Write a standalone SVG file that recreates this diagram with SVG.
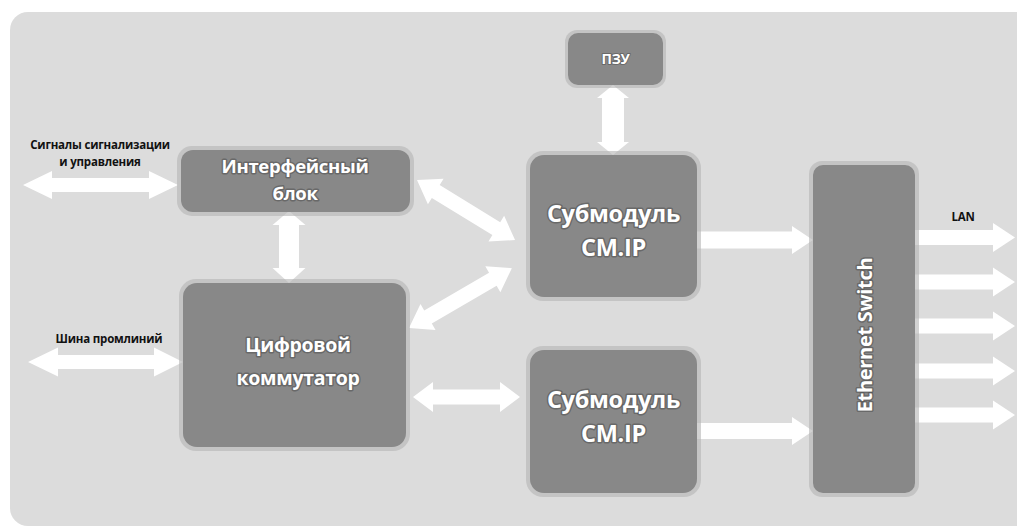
<svg xmlns="http://www.w3.org/2000/svg" width="1017" height="529" viewBox="0 0 1017 529">
<style>
.panel{fill:#dcdcdc}
.glow{fill:#b4b4b4;opacity:.6}
.box{fill:#888888}
.t{font-family:"Open Sans","DejaVu Sans",sans-serif;font-weight:700;fill:#fff;text-anchor:middle;stroke:#4a4a4a;stroke-width:3;stroke-opacity:.5;paint-order:stroke;stroke-linejoin:round;letter-spacing:-0.3px}
.lbl{font-family:"Open Sans","DejaVu Sans",sans-serif;font-weight:700;fill:#111;font-size:11.5px;text-anchor:middle;letter-spacing:-0.2px}
.arr{fill:#fff}
</style>
<rect x="0" y="0" width="1017" height="529" fill="#fff"/>
<rect class="panel" x="10" y="12" width="1040" height="514" rx="18"/>

<g id="connectors">
  <polygon class="arr" points="23,185 52,171 52,178 149,178 149,171 178,185 149,199 149,192 52,192 52,199"/>
  <polygon class="arr" points="28,362 58,347.5 58,355 154,355 154,347.5 183,362 154,376.5 154,369 58,369 58,376.5"/>
  <polygon class="arr" points="289,211 305.5,225 299,225 299,268 305.5,268 289,283 272.5,268 279,268 279,225 272.5,225"/>
  <polygon class="arr" points="613,85 629,98 624,98 624,142 629,142 613,155 597,142 602,142 602,98 597,98"/>
  <polygon class="arr" transform="translate(417,180) rotate(31.5)" points="0,0 22,-15 22,-7.5 93,-7.5 93,-15 115,0 93,15 93,7.5 22,7.5 22,15"/>
  <polygon class="arr" transform="translate(409,328) rotate(-30.2)" points="0,0 22,-15 22,-7.5 97,-7.5 97,-15 119,0 97,15 97,7.5 22,7.5 22,15"/>
  <polygon class="arr" points="413,397 433,382 433,389.5 500,389.5 500,382 520,397 500,412 500,404.5 433,404.5 433,412"/>
  <polygon class="arr" points="697,231.5 792,231.5 792,226 813,240 792,254 792,248.5 697,248.5"/>
  <polygon class="arr" points="697,423 792,423 792,417 813,431 792,445 792,439 697,439"/>
  <polygon class="arr" points="915,230 993,230 993,223 1015,237.5 993,252 993,245 915,245"/>
  <polygon class="arr" points="915,274.5 993,274.5 993,267.5 1015,282 993,296.5 993,289.5 915,289.5"/>
  <polygon class="arr" points="915,318.5 993,318.5 993,311.5 1015,326 993,340.5 993,333.5 915,333.5"/>
  <polygon class="arr" points="915,363.5 993,363.5 993,356.5 1015,371 993,385.5 993,378.5 915,378.5"/>
  <polygon class="arr" points="915,407.5 993,407.5 993,400.5 1015,415 993,429.5 993,422.5 915,422.5"/>
</g>

<g id="labels">
  <text class="lbl" x="100" y="149">Сигналы сигнализации</text>
  <text class="lbl" x="100" y="166">и управления</text>
  <text class="lbl" x="109" y="343">Шина промлиний</text>
  <text class="lbl" x="963" y="221">LAN</text>
</g>

<g id="node-interface">
  <rect class="glow" x="177" y="146" width="237" height="70" rx="15"/>
  <rect class="box" x="181" y="150" width="229" height="62" rx="12"/>
  <text class="t" x="295" y="173" font-size="18.5">Интерфейсный</text>
  <text class="t" x="295" y="200" font-size="18.5">блок</text>
</g>

<g id="node-digital">
  <rect class="glow" x="179" y="279" width="231" height="172" rx="17"/>
  <rect class="box" x="183" y="283" width="223" height="164" rx="14"/>
  <text class="t" x="298" y="352" font-size="19.5">Цифровой</text>
  <text class="t" x="298" y="385" font-size="19.5">коммутатор</text>
</g>

<g id="node-pzu">
  <rect class="glow" x="565" y="30" width="101" height="58" rx="12"/>
  <rect class="box" x="568" y="33" width="95" height="52" rx="10"/>
  <text class="t" x="615.5" y="64" font-size="14" style="stroke-width:2">ПЗУ</text>
</g>

<g id="node-sub1">
  <rect class="glow" x="526" y="151" width="175" height="150" rx="17"/>
  <rect class="box" x="530" y="155" width="167" height="142" rx="14"/>
  <text class="t" x="613.5" y="222" font-size="23.5">Субмодуль</text>
  <text class="t" x="613.5" y="256" font-size="23.5">CM.IP</text>
</g>

<g id="node-sub2">
  <rect class="glow" x="526" y="346" width="175" height="151" rx="17"/>
  <rect class="box" x="530" y="350" width="167" height="143" rx="14"/>
  <text class="t" x="613.5" y="408" font-size="23.5">Субмодуль</text>
  <text class="t" x="613.5" y="442" font-size="23.5">CM.IP</text>
</g>

<g id="node-switch">
  <rect class="glow" x="809" y="161" width="110" height="336" rx="13"/>
  <rect class="box" x="813" y="165" width="102" height="328" rx="10"/>
  <text class="t" transform="translate(872,335) rotate(-90)" x="0" y="0" font-size="20">Ethernet Switch</text>
</g>
</svg>
